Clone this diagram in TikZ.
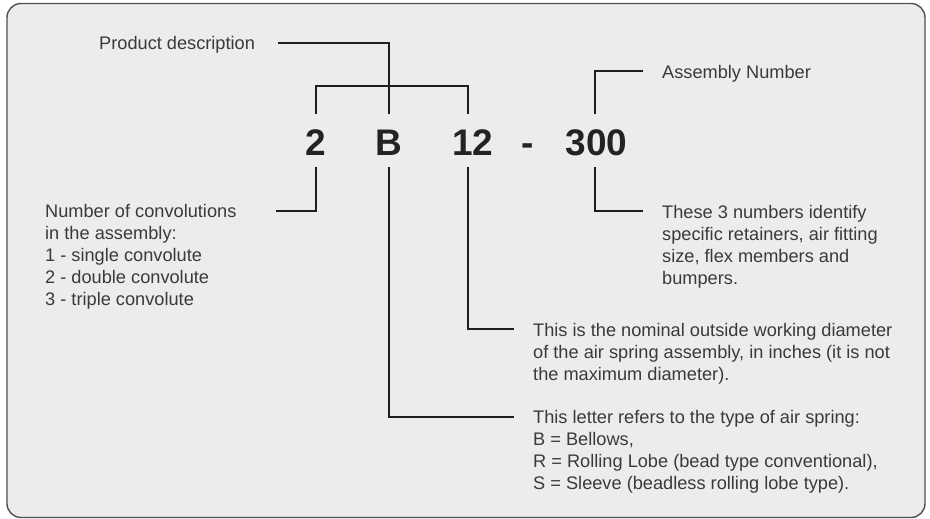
\documentclass[tikz,border=0pt]{standalone}
\usepackage{fontspec}
\setmainfont{Liberation Sans}
\begin{document}
\begin{tikzpicture}[x=1pt,y=-1pt,
  txt/.style={anchor=north west,inner sep=0pt,align=left,text=textgray,
    font=\fontsize{18.2}{22}\selectfont},
  big/.style={anchor=base,inner sep=0pt,text=digitblack,font=\fontsize{37}{40}\selectfont\bfseries},
  conn/.style={draw=linecol,line width=2.2pt,line cap=rect}]
\definecolor{textgray}{HTML}{3A3A3A}
\definecolor{digitblack}{HTML}{232323}
\definecolor{linecol}{HTML}{1E1E1E}
\definecolor{bgfill}{HTML}{ECECEC}
\definecolor{bordercol}{HTML}{505050}
\useasboundingbox (0,0) rectangle (930,519);
\draw[fill=bgfill,draw=bordercol,line width=1.4pt,rounded corners=14pt] (7,3.5) rectangle (925,517.5);

% code characters
\node[big] (n2) at (316,155) {2};
\node[big] (nB) at (389,155) {B};
\node[big] (n12) at (473,155) {12};
\node[big] (ndash) at (528,155) {-};
\node[big] (n300) at (596.5,155) {300};

% texts (top = first baseline - 15.4)
\node[txt] (tPD) at (99,33.6) {\strut Product description};
\node[txt] (tAN) at (662,62.6) {\strut Assembly Number};
\node[txt] (tThese) at (662,202.6) {\strut These 3 numbers identify\\specific retainers, air fitting\\size, flex members and\\bumpers.};
\node[txt] (tConv) at (45,201.6) {\strut Number of convolutions\\in the assembly:\\1 - single convolute\\2 - double convolute\\3 - triple convolute};
\node[txt] (tNom) at (533,320.6) {\strut This is the nominal outside working diameter\\of the air spring assembly, in inches (it is not\\the maximum diameter).};
\node[txt] (tLet) at (533,407.6) {\strut This letter refers to the type of air spring:\\B = Bellows,\\R = Rolling Lobe (bead type conventional),\\S = Sleeve (beadless rolling lobe type).};

% connector ends
\coordinate (c2t) at (316,113);
\coordinate (cBt) at (389,113);
\coordinate (c12t) at (468,113);
\coordinate (c300t) at (595,113);
\coordinate (c2b) at (316,168);
\coordinate (cBb) at (389,168);
\coordinate (c12b) at (468,168);
\coordinate (c300b) at (595,168);
\coordinate (barL) at (316,86);
\coordinate (barR) at (468,86);
\coordinate (pdEnd) at (279,43);
\coordinate (anEnd) at (642,71);
\coordinate (thEnd) at (642,211);
\coordinate (cvEnd) at (277,211);
\coordinate (nmEnd) at (513,329);
\coordinate (ltEnd) at (513,417);

% connectors
\draw[conn] (c2t) -- (barL) -- (barR) -- (c12t);
\draw[conn] (pdEnd) -| (cBt);
\draw[conn] (c300t) |- (anEnd);
\draw[conn] (c300b) |- (thEnd);
\draw[conn] (c2b) |- (cvEnd);
\draw[conn] (c12b) |- (nmEnd);
\draw[conn] (cBb) |- (ltEnd);
\end{tikzpicture}
\end{document}
